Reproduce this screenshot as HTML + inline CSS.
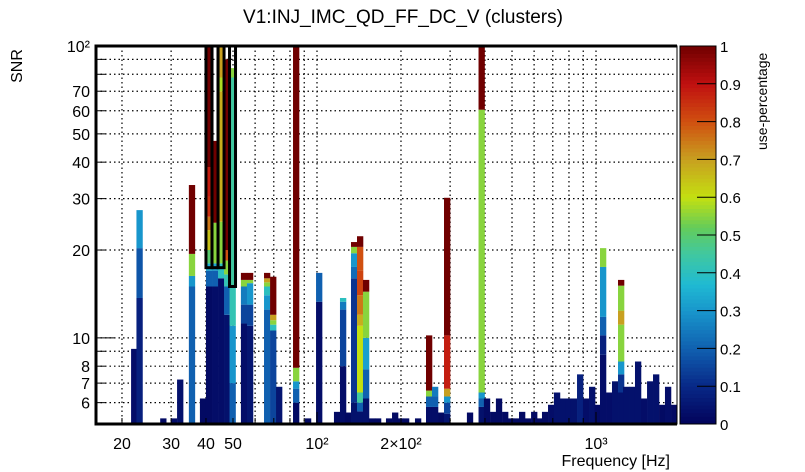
<!DOCTYPE html>
<html><head><meta charset="utf-8"><style>
body{margin:0;background:#fff;}
svg{display:block;font-family:"Liberation Sans",sans-serif;}
</style></head><body>
<svg id="chart" width="805" height="472" viewBox="0 0 805 472" xmlns="http://www.w3.org/2000/svg">
<rect width="805" height="472" fill="#fff"/>
<text x="403" y="23" font-size="19" text-anchor="middle">V1:INJ_IMC_QD_FF_DC_V (clusters)</text>
<g id="grid"></g>
<g id="bins"></g>
<g id="outlines"></g>
<g id="axes"></g>
<g id="cbar"></g>
<text transform="translate(22,66) rotate(-90)" font-size="16" text-anchor="middle">SNR</text>
<text x="670" y="466" font-size="16" text-anchor="end">Frequency [Hz]</text>
<text transform="translate(767,150) rotate(-90)" font-size="14" text-anchor="start">use-percentage</text>
</svg>
<script>
const freqs=[22.1,23.1,28.1,30.7,32.3,35.6,39.0,41.0,43.1,45.3,47.6,49.8,54.7,57.5,66.2,69.6,73.1,84.1,92.8,101.7,117.9,123.9,129.1,135.7,142.6,149.8,157.4,165.4,181.1,190.4,198.4,208.4,230.1,252.0,264.8,278.3,292.4,353.2,388.8,406.4,427.6,448.7,472.1,495.5,518.8,543.0,570.2,599.8,627.4,656.2,689.9,724.4,761.6,796.9,833.7,876.4,920.5,967.6,1012.5,1059.3,1113.4,1169.5,1229.2,1281,1346,1414,1486,1562,1641,1725,1811,1904];
const snrTops=[
[9.17],[13.7,20.3,27.4],[5.3],[5.3],[7.2],[15.0,16.3,19.4,33.4],[6.2],
[15,17,18,20,23.4,26,30.4,38.5,100],[15,17,18,24.8,47.3],[16,18,25,70,78,100],[12,15,16.5,18.4,20,90],[7,11,15,78,84],
[11.2,13,15,15.8,16.7],[11,13,15.4,15.8,16.7],[12.5,14,15,15.5,16,16.7],[10.6,11.1,11.5,12,16.2],[6.8],[6,6.7,7.1,7.9,100],[5.3],[13.3,16.7],
[5.58],[8,12.5,13.3,13.7],[5.55],[6,16,17.5,19.5,20.5,21.3],[5.6,6,6.5,11,12,14,17,20.5,22.3],[6.2,7.8,10,14.4,15.8],[5.3],[5.3],[5.3],[5.55],[5.3],[5.3],[5.3],
[5.8,6.3,6.6,10.2],[5.8,6.3,6.8],[5.55],[5.5,6,6.3,6.7,10.2,30.2],[5.55],[5.8,6.2,6.5,60.5,100],[6.2],[5.58],[6.2],[5.58],[5.3],[5.3],[5.58],[5.3],[5.58],[5.3],[5.58],
[5.9],[6.5],[6.2],[6.2],[6.2],[7.5],[6.2],[6.8],[5.9],[8.75,10.2,11.8,17.5,20.3],[6.5],[7.1],[6.5,7.5,8.3,11.1,12.4,15.1,15.8],[6.8],[6.8],[8.3],[6.2],[7.1],[7.5],[5.9],[6.8],[5.9]];
const useVals=[
[0.03],[0.08,0.18,0.3],[0.02],[0.03],[0.04],[0.2,0.3,0.55,1],[0.02],
[0.02,0.2,0.35,0.5,0.65,0.75,0.85,0.88,1],[0.03,0.2,0.32,0.55,1],[0.03,0.4,0.55,0.68,0.58,0.7],[0.04,0.2,0.42,0.55,0.8,1],[0.2,0.3,0.42,0.45,0.55],
[0.03,0.15,0.25,0.55,1],[0.05,0.15,0.3,0.55,1],[0.2,0.3,0.4,0.55,0.7,1],[0.15,0.4,0.55,0.7,1],[0.05],[0.02,0.2,0.3,0.55,1],[0.02],[0.03,0.2],
[0.02],[0.03,0.15,0.25,0.4],[0.02],[0.04,0.12,0.22,0.3,0.55,1],[0.04,0.2,0.45,0.6,0.68,0.75,0.82,0.8,1],[0.04,0.2,0.32,0.55,1],[0.02],[0.02],[0.02],[0.02],[0.02],[0.02],[0.02],
[0.03,0.2,0.55,1],[0.03,0.2,0.25],[0.02],[0.05,0.15,0.3,0.7,0.88,1],[0.02],[0.04,0.2,0.3,0.55,1],[0.02],[0.02],[0.02],[0.02],[0.02],[0.02],[0.02],[0.02],[0.02],[0.02],[0.02],
[0.03],[0.04],[0.04],[0.04],[0.04],[0.08],[0.03],[0.04],[0.02],[0.03,0.08,0.2,0.3,0.55],[0.03],[0.04],[0.04,0.12,0.3,0.55,0.7,0.55,1],[0.04],[0.04],[0.04],[0.03],[0.04],[0.04],[0.02],[0.03],[0.02]];
const outlineFreqs=[41.0,43.1,45.3,49.8];
const outlineBottoms=[17.4,17.4,17.4,15.0];
const yTickVals=[6,7,8,9,10,20,30,40,50,60,70,80,90,100];
const yLabelVals=[6,7,8,10,20,30,40,50,60,70,100];
const yLabelText=["6","7","8","10","20","30","40","50","60","70","10²"];
const xGridVals=[20,30,40,50,60,70,80,90,100,200,300,400,500,600,700,800,900,1000];
const xLabelVals=[20,30,40,50,100,200,1000];
const xLabelText=["20","30","40","50","10²","2×10²","10³"];
const cbarTicks=[0,0.1,0.2,0.3,0.4,0.5,0.6,0.7,0.8,0.9,1];

const X0=96,X1=677,Y0=424,Y1=46;
const lxMin=1.2079,lxMax=3.2903,lyMin=Math.log10(5.07),lyMax=2;
function xs(f){return X0+(Math.log10(f)-lxMin)/(lxMax-lxMin)*(X1-X0);}
function ys(s){return Y0-(Math.log10(s)-lyMin)/(lyMax-lyMin)*(Y0-Y1);}
const halfW=0.01075;
const stops=[[0,[2,2,90]],[0.1,[8,40,135]],[0.2,[16,96,176]],[0.3,[24,150,204]],[0.37,[32,186,210]],[0.45,[64,200,160]],[0.52,[100,204,90]],[0.6,[196,224,16]],[0.7,[200,160,32]],[0.8,[208,80,16]],[0.9,[192,16,16]],[1,[112,0,0]]];
function col(v){for(let i=1;i<stops.length;i++){if(v<=stops[i][0]){const a=stops[i-1],b=stops[i];const t=(v-a[0])/(b[0]-a[0]);const c=a[1].map((q,k)=>Math.round(q+(b[1][k]-q)*t));return `rgb(${c})`;}}return 'rgb(112,0,0)';}
const NS="http://www.w3.org/2000/svg";
function mk(tag,attrs,parent){const e=document.createElementNS(NS,tag);for(const k in attrs)e.setAttribute(k,attrs[k]);parent.appendChild(e);return e;}

const grid=document.getElementById('grid');
yTickVals.forEach(v=>{const y=ys(v);
const l=mk('line',{x1:X0,x2:X1,y1:y,y2:y,stroke:'#000','stroke-width':1.2,'stroke-dasharray':'1.5,3'},grid);

});
xGridVals.forEach(v=>{const x=xs(v);
const l=mk('line',{x1:x,x2:x,y1:Y1,y2:Y0,stroke:'#000','stroke-width':1.2,'stroke-dasharray':'1.5,3'},grid);

});

const bins=document.getElementById('bins');
freqs.forEach((f,i)=>{const lf=Math.log10(f);const xa=xs(Math.pow(10,lf-halfW)),xb=xs(Math.pow(10,lf+halfW));
let bottom=Y0;snrTops[i].forEach((t,j)=>{const yt=Math.max(Y1,ys(t));
const r=mk('rect',{x:xa,y:yt,width:xb-xa+0.3,height:Math.max(0,bottom-yt),fill:col(useVals[i][j])},bins);


bottom=yt;});});

const ol=document.getElementById('outlines');
outlineFreqs.forEach((f,i)=>{const lf=Math.log10(f);const xa=xs(Math.pow(10,lf-halfW)),xb=xs(Math.pow(10,lf+halfW));
const r=mk('rect',{x:xa,y:Y1,width:xb-xa,height:ys(outlineBottoms[i])-Y1,fill:'none',stroke:'#000','stroke-width':3},ol);

});

const ax=document.getElementById('axes');
const fr=mk('rect',{x:X0,y:Y1,width:X1-X0,height:Y0-Y1,fill:'none',stroke:'#000','stroke-width':1},ax);


const tl=mk('line',{x1:X0,x2:X1,y1:Y1,y2:Y1,stroke:'#000','stroke-width':3},ax);


const la=mk('line',{x1:X0,x2:X0,y1:Y1-1.5,y2:Y0+1.5,stroke:'#000','stroke-width':3},ax);


const ba=mk('line',{x1:X0,x2:X1,y1:Y0,y2:Y0,stroke:'#000','stroke-width':3},ax);


yTickVals.forEach(v=>{const y=ys(v);const L=(v===10||v===100)?18:9;
const t=mk('line',{x1:X0,x2:X0+L,y1:y,y2:y,stroke:'#000','stroke-width':1},ax);

});
yLabelVals.forEach((v,i)=>{
const t=mk('text',{x:90,y:ys(v)+6,'font-size':16,'text-anchor':'end'},ax);t.textContent=yLabelText[i];

});
xGridVals.forEach(v=>{const x=xs(v);const L=(v===100||v===1000)?12:6;
const t=mk('line',{x1:x,x2:x,y1:Y0,y2:Y0-L,stroke:'#000','stroke-width':1},ax);

});
xLabelVals.forEach((v,i)=>{
const t=mk('text',{x:xs(v),y:449,'font-size':16,'text-anchor':'middle'},ax);t.textContent=xLabelText[i];

});

const cb=document.getElementById('cbar');
const CX0=680,CX1=716;
for(let k=0;k<100;k++){const v0=k/100;const ya=Y0-(k+1)/100*(Y0-Y1),yb=Y0-k/100*(Y0-Y1);
const r=mk('rect',{x:CX0,y:ya,width:CX1-CX0,height:yb-ya+0.5,fill:col(v0+0.005)},cb);

}
const cbf=mk('rect',{x:CX0,y:Y1,width:CX1-CX0,height:Y0-Y1,fill:'none',stroke:'#000','stroke-width':1},cb);


cbarTicks.forEach(v=>{const y=Y0-v*(Y0-Y1);
const t=mk('line',{x1:CX1-19,x2:CX1,y1:y,y2:y,stroke:'#000','stroke-width':1},cb);


const tx=mk('text',{x:720,y:y+6,'font-size':15},cb);tx.textContent=String(v);

});
</script>
</body></html>
